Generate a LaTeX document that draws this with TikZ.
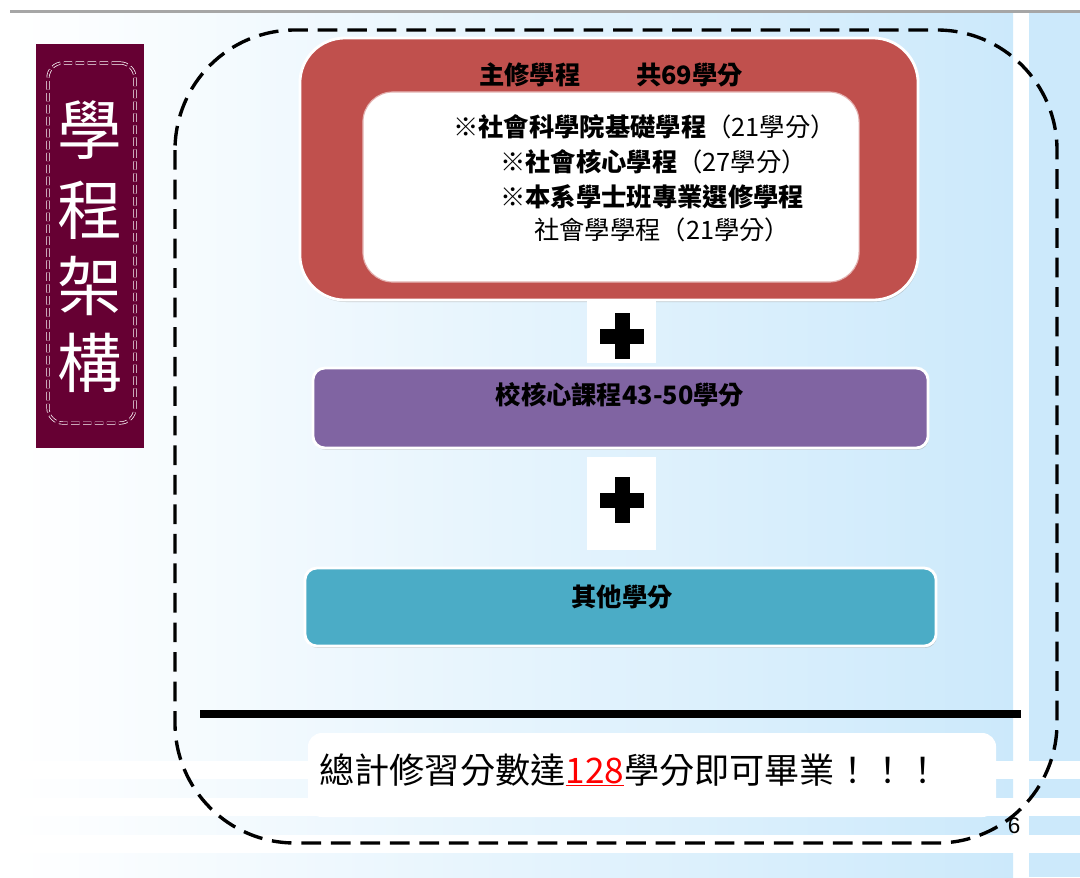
\documentclass[tikz,border=0pt]{standalone}
\usepackage{fontspec}
\setmainfont{Noto Sans CJK TC}
\newfontfamily\pagefont{Liberation Sans}
\usetikzlibrary{positioning,shadows}

\definecolor{bgblue}{HTML}{CCE9FB}
\definecolor{titlered}{HTML}{660033}
\definecolor{majorred}{HTML}{C0504D}
\definecolor{corepurple}{HTML}{8064A2}
\definecolor{otherteal}{HTML}{4BACC6}

\begin{document}
\begin{tikzpicture} [
                % one unit is one pixel of the slide, y runs downwards
                x=0.025cm, y=-0.025cm,
                title char/.style = {text=white, inner sep=0pt, font=\fontsize{46}{46}\selectfont},
                box/.style = {draw=white, line width=2pt,
                              drop shadow={shadow xshift=0.6pt, shadow yshift=-1.4pt, opacity=0.35}},
                major box/.style = {box, fill=majorred, rounded corners=1.125cm,
                                    minimum width=15.45cm, minimum height=6.55cm},
                inner box/.style = {fill=white, draw=majorred!45, line width=0.8pt, rounded corners=0.75cm,
                                    minimum width=12.4cm, minimum height=4.75cm},
                course box/.style = {box, rounded corners=0.3cm},
                plus back/.style = {fill=white, inner sep=0pt, minimum width=1.725cm},
                plus bar/.style = {fill=black, inner sep=0pt},
                listline/.style = {anchor=west, inner sep=0pt, font=\fontsize{18}{18}\selectfont},
                boxtext/.style = {inner sep=0pt, font=\fontsize{18}{18}\selectfont\bfseries}
            ]
            \useasboundingbox (0,0) rectangle (1080,877);
            % First the slide background
            \fill[white] (0,0) rectangle (1080,877);
            \shade[left color=white, right color=bgblue] (10,12) rectangle (1013,877);
            \fill[bgblue] (1029,12) rectangle (1080,877);
            \foreach \top/\bot in {761/779, 798/816, 835/853}
                \fill[white] (10,\top) rectangle (1080,\bot);
            \fill[black!35] (10,10) rectangle (1080,13);
            % the title on the left
            \node[fill=titlered, minimum width=2.7cm, minimum height=10.1cm] (title) at (90,246) {};
            \node[draw=white, dash pattern=on 6pt off 2.5pt, double=titlered, double distance=1.2pt,
                  line width=0.5pt, rounded corners=0.375cm,
                  minimum width=2.175cm, minimum height=9cm] (titleframe) at (91.5,243) {};
            \foreach \pos/\ch/\name in {130/學/ta, 210/程/tb, 286/架/tc, 363/構/td}
                \node[title char] (\name) at (90,\pos) {\ch};
            % dashed frame round the whole plan
            \draw[line width=2.4pt, dash pattern=on 14pt off 7pt, rounded corners=3cm]
                (175,30) rectangle (1057,843);
            % the major courses
            \node[major box] (major) at (609,169) {};
            \node[boxtext] (majortitle) at (611,75) {主修學程\hspace{2.2em}共69學分};
            \node[inner box] (majorlist) at (611,187) {};
            \node[listline] (lista) at (453,127) {\textbf{※社會科學院基礎學程}（21學分）};
            \node[listline] (listb) at (500,162) {\textbf{※社會核心學程}（27學分）};
            \node[listline] (listc) at (500,197) {\textbf{※本系學士班專業選修學程}};
            \node[listline] (listd) at (534,230) {社會學學程（21學分）};
            % plus signs between the boxes
            \foreach \y/\h/\name in {331.5/1.575cm/backa, 503.5/2.325cm/backb}
                \node[plus back, minimum height=\h] (\name) at (621.5,\y) {};
            \foreach \y/\name in {336/plusa, 500/plusb} {
                \node[plus bar, minimum width=1.1cm, minimum height=0.375cm] (\name h) at (622,\y) {};
                \node[plus bar, minimum width=0.375cm, minimum height=1.15cm] (\name v) at (622,\y) {};
            }
            % university core and other credits
            \node[course box, fill=corepurple, minimum width=15.375cm, minimum height=2cm] (core) at (620.5,408) {};
            \node[boxtext] (coretext) at (620,395) {校核心課程43-50學分};
            \node[course box, fill=otherteal, minimum width=15.775cm, minimum height=1.95cm] (other) at (620.5,607) {};
            \node[boxtext] (othertext) at (622,597) {其他學分};
            % the sum
            \draw[line width=5pt] (200,714) -- (1021,714);
            \node[fill=white, rounded corners=0.35cm, minimum width=17.2cm, minimum height=2.1cm] (totalbox) at (652,775) {};
            \node[inner sep=0pt, font=\fontsize{25}{25}\selectfont] (total) at (630,770)
                {總計修習分數達\textcolor{red}{\underline{128}}學分即可畢業！！！};
            \node[inner sep=0pt, font=\pagefont\fontsize{16}{16}\selectfont] (page) at (1014,826) {6};
        \end{tikzpicture}
\end{document}
